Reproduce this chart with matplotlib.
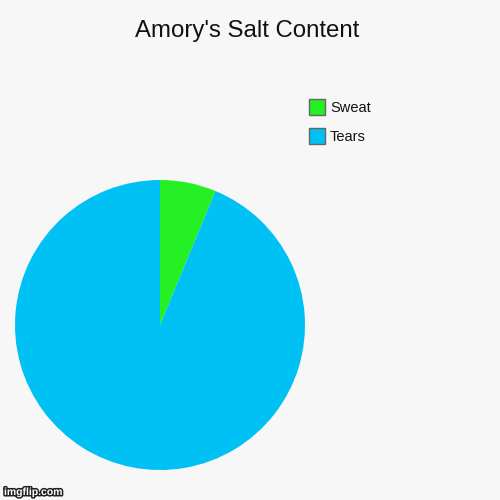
import matplotlib
matplotlib.use("Agg")
import matplotlib.pyplot as plt
from matplotlib.patches import Rectangle
import matplotlib.patheffects as pe

title = "Amory's Salt Content"
labels = ["Sweat", "Tears"]
values = [1, 15]
colors = ["#24f024", "#00c1f3"]

bg = "#f7f7f7"
fig = plt.figure(figsize=(5, 5), dpi=100, facecolor=bg)
plt.rcParams['font.family'] = ['Liberation Sans', 'DejaVu Sans']

ax = fig.add_axes([0.03, 0.06, 0.58, 0.58])
ax.set_facecolor(bg)
ax.pie(values, colors=colors, startangle=90, counterclock=False, radius=1.0,
       wedgeprops=dict(linewidth=0))
ax.set_xlim(-1, 1)
ax.set_ylim(-1, 1)
ax.set_aspect('equal')
ax.axis('off')

fig.text(247 / 500, 1 - 31 / 500, title, ha='center', va='center', fontsize=17.3, color='#111111')

# legend
for i, (lab, col) in enumerate(zip(labels, colors)):
    top = 99 + i * 29
    fig.patches.append(Rectangle((309 / 500, 1 - (top + 16) / 500), 16 / 500, 16 / 500,
                                 transform=fig.transFigure, facecolor=col,
                                 edgecolor='#666666', linewidth=1))
    fig.text(330 / 500, 1 - (top + 9) / 500, lab, ha='left', va='center',
             fontsize=10.5, color='#111111')

fig.text(4 / 500, 1 - 492 / 500, "imgflip.com", ha='left', va='center', fontsize=7.5,
         fontweight='bold', color='white',
         path_effects=[pe.withStroke(linewidth=2.2, foreground='#222222')])

fig.savefig("out.png", dpi=100, facecolor=bg)
